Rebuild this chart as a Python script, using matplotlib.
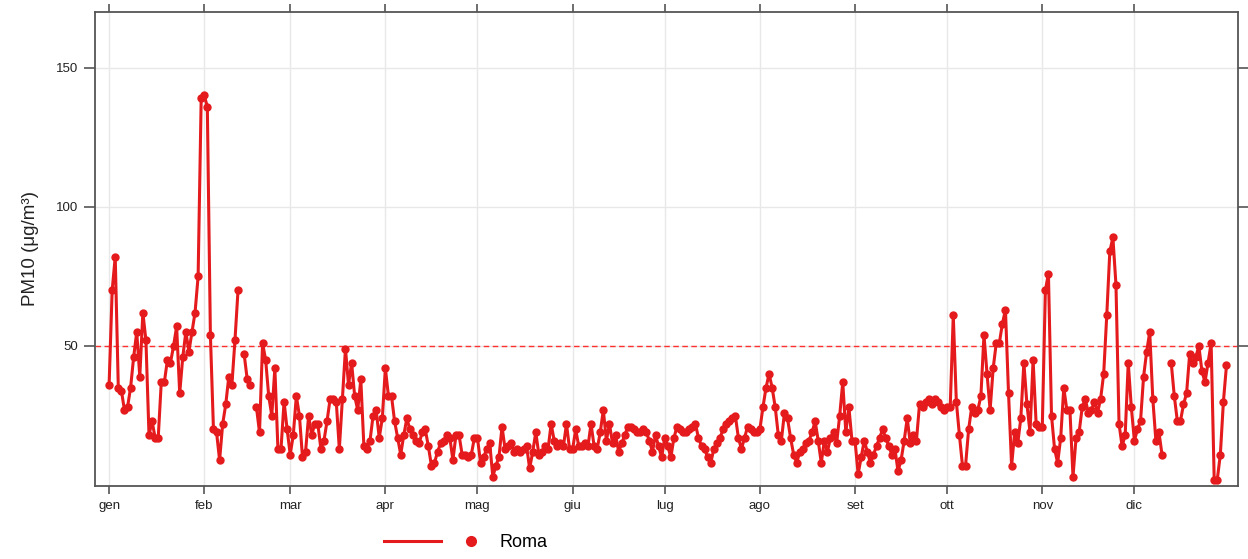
import matplotlib
matplotlib.use("Agg")
import matplotlib.pyplot as plt
from matplotlib.lines import Line2D
from matplotlib.legend_handler import HandlerTuple
import numpy as np
import pandas as pd

nan = np.nan

# daily PM10, Roma
gen = [36, 70, 82, 35, 34, 27, 28, 35, 46, 55, 39, 62, 52, 18, 23, 17, 17, 37, 37, 45,
       44, 50, 57, 33, 46, 55, 48, 55, 62, 75, 139]
feb = [140, 136, 54, 20, 19, 9, 22, 29, 39, 36, 52, 70, nan, 47, 38, 36, nan, 28, 19, 51,
       45, 32, 25, 42, 13, 13, 30, 20]
mar = [11, 18, 32, 25, 10, 12, 25, 18, 22, 22, 13, 16, 23, 31, 31, 30, 13, 31, 49, 36,
       44, 32, 27, 38, 14, 13, 16, 25, 27, 17, 24]
apr = [42, 32, 32, 23, 17, 11, 18, 24, 20, 18, 16, 15, 19, 20, 14, 7, 8, 12, 15, 16,
       18, 17, 9, 18, 18, 11, 11, 10, 11, 17]
mag = [17, 8, 10, 13, 15, 3, 7, 10, 21, 13, 14, 15, 12, 13, 12, 13, 14, 6, 12, 19,
       11, 12, 14, 13, 22, 16, 14, 15, 14, 22, 13]
giu = [13, 20, 14, 14, 15, 14, 22, 14, 13, 19, 27, 16, 22, 15, 18, 12, 15, 18, 21, 21,
       20, 19, 19, 20, 19, 16, 12, 18, 14, 10]
lug = [17, 14, 10, 17, 21, 20, 19, 19, 20, 21, 22, 17, 14, 13, 10, 8, 13, 15, 17, 20,
       22, 23, 24, 25, 17, 13, 17, 21, 20, 19, 19]
ago = [20, 28, 35, 40, 35, 28, 18, 16, 26, 24, 17, 11, 8, 12, 13, 15, 16, 19, 23, 16,
       8, 16, 12, 17, 19, 15, 25, 37, 19, 28, 16]
sett = [16, 4, 10, 16, 12, 8, 11, 14, 17, 20, 17, 14, 11, 13, 5, 9, 16, 24, 15, 18,
        16, 29, 28, 30, 31, 29, 31, 30, 28, 27]
ott = [28, 28, 61, 30, 18, 7, 7, 20, 28, 26, 27, 32, 54, 40, 27, 42, 51, 51, 58, 63,
       33, 7, 19, 15, 24, 44, 29, 19, 45, 22, 21]
nov = [21, 70, 76, 25, 13, 8, 17, 35, 27, 27, 3, 17, 19, 28, 31, 26, 27, 30, 26, 31,
       40, 61, 84, 89, 72, 22, 14, 18, 44, 28]
dic = [16, 20, 23, 39, 48, 55, 31, 16, 19, 11, nan, nan, 44, 32, 23, 23, 29, 33, 47, 44,
       46, 50, 41, 37, 44, 51, 2, 2, 11, 30, 43]

month_labels = ["gen", "feb", "mar", "apr", "mag", "giu", "lug", "ago", "set", "ott", "nov", "dic"]
limit = 50
station = "Roma"

pm10 = gen + feb + mar + apr + mag + giu + lug + ago + sett + ott + nov + dic
days = pd.date_range("2019-01-01", periods=len(pm10), freq="D")
month_starts = pd.date_range("2019-01-01", periods=12, freq="MS")

red = "#E41A1C"
frame = "#555555"

plt.rcParams["font.family"] = ["Liberation Sans", "DejaVu Sans"]

fig = plt.figure(figsize=(12.48, 5.59), dpi=100)
ax = fig.add_axes([0.0761, 0.1306, 0.916, 0.848])

ax.plot(days, pm10, color=red, lw=2.2, marker="o", ms=5, zorder=3)
ax.axhline(limit, color="#ff3030", lw=1, ls=(0, (4, 2.5)), zorder=2)

ax.set_xlim(days[0] - pd.Timedelta(days=4.6), days[-1] + pd.Timedelta(days=3.8))
ax.set_ylim(-0.3, 170)

ax.set_xticks(month_starts)
ax.set_xticklabels(month_labels)
ax.set_yticks([50, 100, 150])
ax.grid(True, color="#e8e8e8", lw=1)
ax.set_axisbelow(True)

ax.tick_params(axis="both", direction="out", colors=frame, labelcolor="#222222",
               labelsize=9.5, width=1.2, top=True, right=True)
ax.tick_params(axis="x", length=6, pad=4)
ax.tick_params(axis="y", length=8, pad=4)
ax.tick_params(labeltop=False, labelright=False)
for s in ax.spines.values():
    s.set_color(frame)
    s.set_linewidth(1.3)

ax.set_ylabel("PM10 (μg/m³)", fontsize=13.5, color="#222222", labelpad=12)

# lattice-style key: line, then point, then the name
h_line = Line2D([], [], color=red, lw=2.2)
h_pt = Line2D([], [], color=red, marker="o", ms=7, ls="none")
fig.legend([(h_line, h_pt)], [station], handler_map={tuple: HandlerTuple(ndivide=None, pad=0.1)},
           loc="center", bbox_to_anchor=(0.373, 0.029), frameon=False, fontsize=13,
           handlelength=6.4, handletextpad=0.0)

fig.savefig("out.png", dpi=100)
